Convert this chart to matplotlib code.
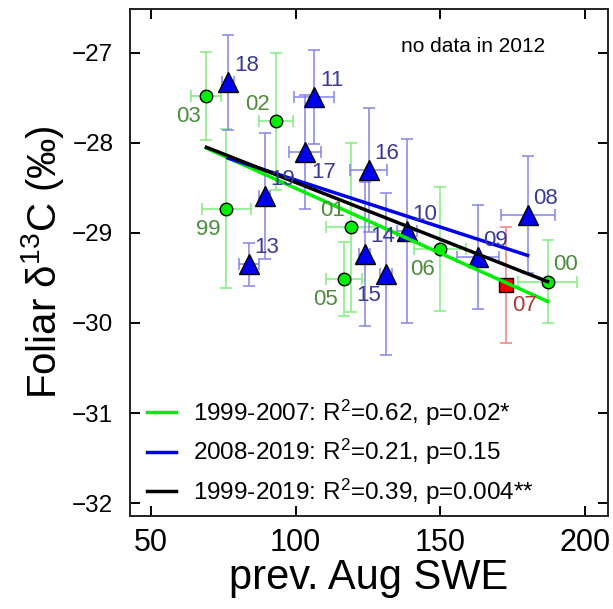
import numpy as np
import matplotlib
matplotlib.use("Agg")
import matplotlib.pyplot as plt

plt.rcParams['font.family'] = ['Liberation Sans', 'DejaVu Sans']
plt.rcParams['mathtext.default'] = 'regular'

# 1999-2007 (green circles), 2007 shown separately as red square
g_year = ['99', '00', '01', '02', '03', '05', '06']
g_x = [76.1, 187.0, 119.0, 93.2, 69.2, 116.6, 149.9]
g_y = [-28.73, -29.54, -28.94, -27.76, -27.48, -29.51, -29.18]
g_xerr = [8.4, 10.2, 8.5, 5.9, 5.2, 6.2, 8.9]
g_yerr = [0.88, 0.46, 0.94, 0.76, 0.49, 0.41, 0.69]
g_pos = ['ll', 'ur', 'ul', 'ul', 'll', 'll', 'll']

# 2008-2019 (blue triangles), no data in 2012
b_year = ['08', '09', '10', '11', '13', '14', '15', '16', '17', '18', '19']
b_x = [180.1, 162.9, 138.4, 106.2, 83.8, 123.8, 131.3, 125.2, 103.3, 76.7, 89.3]
b_y = [-28.80, -29.27, -28.98, -27.49, -29.35, -29.23, -29.46, -28.30, -28.10, -27.33, -28.59]
b_xerr = [9.3, 7.2, 3.5, 6.9, 3.5, 2.0, 2.0, 6.3, 5.6, 2.0, 2.0]
b_yerr = [0.65, 0.58, 1.02, 0.52, 0.24, 0.80, 0.90, 0.69, 0.63, 0.53, 0.70]
b_pos = ['ur', 'ur', 'ur', 'ur', 'ur', 'ur', 'll', 'ur', 'lr', 'ur', 'ur']

r_year = ['07']
r_x = [172.7]
r_y = [-29.58]
r_yerr = [0.64]
r_pos = ['lr']

# regression lines (end points)
fit_g_x = [69.2, 187.0]
fit_g_y = [-28.06, -29.76]
fit_b_x = [76.7, 180.1]
fit_b_y = [-28.17, -29.25]
fit_all_x = [69.2, 187.0]
fit_all_y = [-28.05, -29.54]

leg_labels = ['1999-2007: R$^2$=0.62, p=0.02*',
              '2008-2019: R$^2$=0.21, p=0.15',
              '1999-2019: R$^2$=0.39, p=0.004**']

offs = {'ur': (13, 12), 'ul': (-13, 12), 'll': (-13, -15), 'lr': (13, -15)}

fig = plt.figure(figsize=(6.13, 6.09), dpi=100)
ax = fig.add_axes([0.212, 0.153, 0.780, 0.833])

ax.errorbar(g_x, g_y, xerr=g_xerr, yerr=g_yerr, fmt='none', ecolor='#80ee80',
            elinewidth=1.1, capsize=4.5, capthick=1.1, zorder=2)
ax.errorbar(b_x, b_y, xerr=b_xerr, yerr=b_yerr, fmt='none', ecolor='#8484ea',
            elinewidth=1.1, capsize=4.5, capthick=1.1, zorder=2)
ax.errorbar(r_x, r_y, yerr=r_yerr, fmt='none', ecolor='#f08080',
            elinewidth=1.1, capsize=4.5, capthick=1.1, zorder=2)

ax.plot(g_x, g_y, 'o', ms=9, mfc='#00ee00', mec='black', mew=1, zorder=3)
ax.plot(b_x, b_y, '^', ms=14, mfc='#0000ee', mec='black', mew=1, zorder=3)
ax.plot(r_x, r_y, 's', ms=9.5, mfc='#ee0000', mec='black', mew=1, zorder=3)

l1, = ax.plot(fit_g_x, fit_g_y, color='#00ee00', lw=2.5, zorder=4)
l2, = ax.plot(fit_b_x, fit_b_y, color='#0000ee', lw=2.5, zorder=4)
l3, = ax.plot(fit_all_x, fit_all_y, color='black', lw=2.5, zorder=5)

def label_pts(xs, ys, names, pos, col):
    for x, y, n, p in zip(xs, ys, names, pos):
        ax.annotate(n, (x, y), xytext=offs[p], textcoords='offset points',
                    ha='center', va='center', fontsize=16, color=col, zorder=6)

label_pts(g_x, g_y, g_year, g_pos, '#4c8c3c')
label_pts(b_x, b_y, b_year, b_pos, '#3a3a96')
label_pts(r_x, r_y, r_year, r_pos, '#b03a3a')

ax.text(0.718, 0.925, 'no data in 2012', transform=ax.transAxes,
        ha='center', va='center', fontsize=15)

ax.legend([l1, l2, l3], leg_labels, loc='lower left', bbox_to_anchor=(0.035, 0.018),
          frameon=False, fontsize=17.5, handlelength=1.2, handletextpad=0.7,
          labelspacing=0.38, borderpad=0, borderaxespad=0)

ax.set_xlim(42.8, 207.9)
ax.set_ylim(-32.14, -26.51)
ax.set_xticks([50, 100, 150, 200])
ax.set_yticks([-27, -28, -29, -30, -31, -32])
ax.tick_params(direction='in', length=7, width=1.4, top=True, right=True)
ax.tick_params(axis='x', labelsize=22, pad=9)
ax.tick_params(axis='y', labelsize=17.5, pad=12)
for s in ax.spines.values():
    s.set_linewidth(1.4)
    s.set_color('#222222')

ax.set_xlabel('prev. Aug SWE', fontsize=30, labelpad=0)
ax.set_ylabel('Foliar δ$^{13}$C (‰)', fontsize=29, labelpad=4)

fig.savefig('out.png', dpi=100)
